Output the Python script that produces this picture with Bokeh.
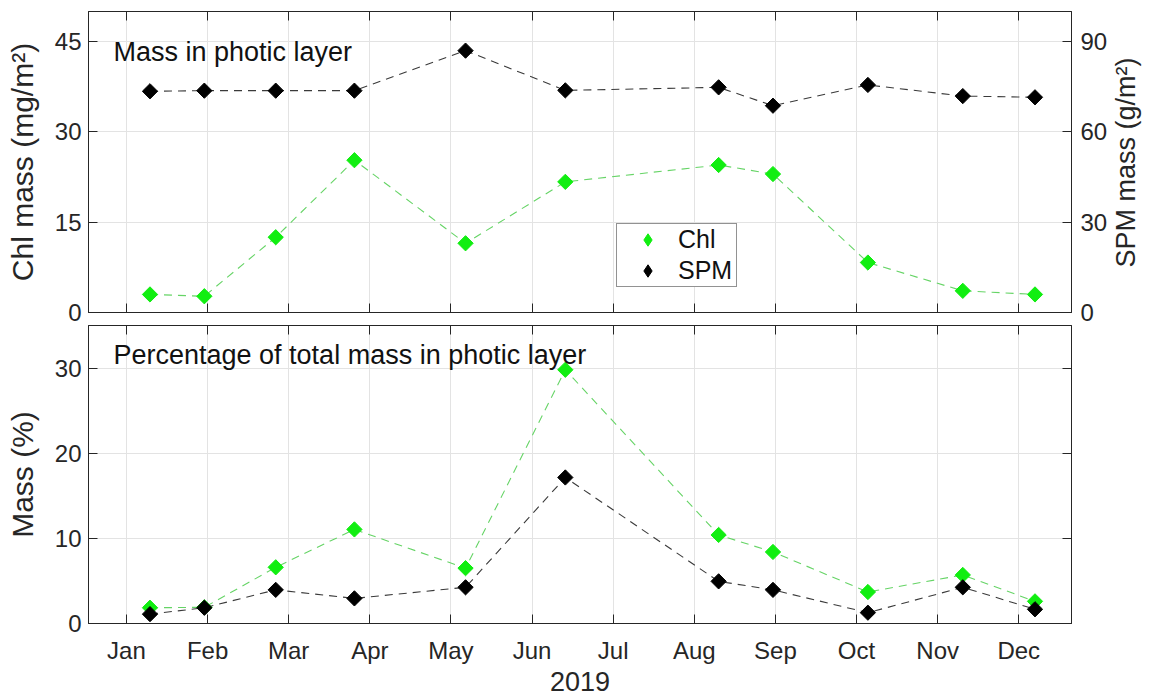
import math
from bokeh.plotting import figure
from bokeh.models import Range1d, LinearAxis, FixedTicker, Label, Legend, LegendItem
from bokeh.layouts import column
from bokeh.embed import file_html
from bokeh.resources import INLINE

# ---------------- data ----------------
month_ticks = [1, 2, 3, 4, 5, 6, 7, 8, 9, 10, 11, 12]
month_labels = ["Jan", "Feb", "Mar", "Apr", "May", "Jun",
                "Jul", "Aug", "Sep", "Oct", "Nov", "Dec"]
# sampling dates expressed as fractional month position on the axis
sample_month = [1.29, 1.96, 2.84, 3.81, 5.18, 6.41, 8.30, 8.97, 10.14, 11.31, 12.20]

chl_mass = [3.0, 2.7, 12.5, 25.3, 11.5, 21.7, 24.5, 23.0, 8.3, 3.6, 3.0]        # mg/m2
spm_mass = [73.5, 73.7, 73.7, 73.7, 87.0, 73.8, 74.8, 68.7, 75.6, 71.9, 71.5]   # g/m2
chl_pct = [1.85, 1.9, 6.6, 11.05, 6.5, 29.8, 10.4, 8.4, 3.7, 5.7, 2.6]          # %
spm_pct = [1.1, 1.85, 3.95, 2.95, 4.25, 17.15, 4.95, 3.95, 1.27, 4.25, 1.67]   # %

top_left_ticks = [0, 15, 30, 45]
top_right_ticks = [0, 30, 60, 90]
bottom_ticks = [0, 10, 20, 30]

# ---------------- style ----------------
FONT = "Liberation Sans"
INK = "#262626"
GREEN = "#11ee11"
GREEN_LINE = "#66d466"
BLACK = "#000000"
BLACK_LINE = "#3a3a3a"
GRID = "#e3e3e3"
DASH = "8 6"
X_LO, X_HI = 0.532, 12.65
FIG_W = 1159
BORDER_L = 88
BORDER_R = FIG_W - 1072
NAN = float("nan")
SPM_TITLE_START = 14.95   # where the bottom-to-top right-hand title begins (SPM units)


def style_axis(ax, ticks, labels=True, font_size="24px", standoff=7):
    ax.ticker = FixedTicker(ticks=ticks, minor_ticks=[])
    ax.axis_line_color = INK
    ax.axis_line_width = 1
    ax.major_tick_line_color = INK
    ax.major_tick_in = 9
    ax.major_tick_out = 0
    ax.minor_tick_in = 0
    ax.minor_tick_out = 0
    ax.major_label_text_font = FONT
    ax.major_label_text_color = INK
    ax.axis_label_text_font = FONT
    ax.axis_label_text_color = INK
    ax.axis_label_text_font_style = "normal"
    if labels:
        ax.major_label_text_font_size = font_size
        ax.major_label_standoff = standoff
    else:
        ax.major_label_overrides = {t: "" for t in ticks}
        ax.major_label_text_font_size = "1px"
        ax.major_label_standoff = 0


def base_fig(height, y_hi, border_top, border_bottom):
    p = figure(width=FIG_W, height=height,
               x_range=Range1d(X_LO, X_HI), y_range=Range1d(0, y_hi),
               output_backend="svg", toolbar_location=None,
               min_border_left=BORDER_L, min_border_right=BORDER_R,
               min_border_top=border_top, min_border_bottom=border_bottom)
    p.outline_line_color = INK
    p.outline_line_width = 1
    p.background_fill_color = "white"
    p.border_fill_color = "white"
    p.xgrid.ticker = FixedTicker(ticks=month_ticks)
    p.xgrid.grid_line_color = GRID
    p.ygrid.grid_line_color = GRID
    return p


# ---------------- top panel ----------------
TOP_FRAME_H = 301
p1 = base_fig(11 + TOP_FRAME_H + 13, 50, 11, 13)
p1.extra_y_ranges = {"spm": Range1d(0, 100)}
p1.ygrid.ticker = FixedTicker(ticks=top_left_ticks)

style_axis(p1.xaxis[0], month_ticks, labels=False)
style_axis(p1.yaxis[0], top_left_ticks, standoff=7)
p1.yaxis[0].axis_label = "Chl mass (mg/m²)"
p1.yaxis[0].axis_label_text_font_size = "30px"
p1.yaxis[0].axis_label_standoff = 13

ax_top = LinearAxis()
style_axis(ax_top, month_ticks, labels=False)
p1.add_layout(ax_top, "above")

ax_r1 = LinearAxis(y_range_name="spm")
style_axis(ax_r1, top_right_ticks, standoff=9)
p1.add_layout(ax_r1, "right")

# right-hand title, reading bottom-to-top, carried by an outer label-only axis
ax_title = LinearAxis(y_range_name="spm")
ax_title.ticker = FixedTicker(ticks=[SPM_TITLE_START], minor_ticks=[])
ax_title.major_label_overrides = {SPM_TITLE_START: "SPM mass (g/m²)"}
ax_title.major_label_orientation = math.pi / 2
ax_title.major_label_text_font = FONT
ax_title.major_label_text_font_size = "27px"
ax_title.major_label_text_color = INK
ax_title.major_label_standoff = 16
ax_title.axis_line_color = None
ax_title.major_tick_line_color = None
ax_title.major_tick_in = 0
ax_title.major_tick_out = 0
ax_title.minor_tick_line_color = None
p1.add_layout(ax_title, "right")

p1.line(sample_month, chl_mass, line_color=GREEN_LINE, line_dash=DASH, line_width=1.1)
p1.scatter(sample_month, chl_mass, marker="square", angle=math.pi / 4, size=10.8,
           fill_color=GREEN, line_color=GREEN)
p1.line(sample_month, spm_mass, line_color=BLACK_LINE, line_dash=DASH, line_width=1.1,
        y_range_name="spm")
p1.scatter(sample_month, spm_mass, marker="square", angle=math.pi / 4, size=10.8,
           fill_color=BLACK, line_color=BLACK, y_range_name="spm")

# legend-only renderers (a single undrawn NaN point) so the key shows diamond symbols
leg_chl = p1.scatter(x=[NAN], y=[NAN], marker="diamond", fill_color=GREEN, line_color=GREEN)
leg_spm = p1.scatter(x=[NAN], y=[NAN], marker="diamond", fill_color=BLACK, line_color=BLACK)

p1.add_layout(Label(x=0.84, y=43.2, text="Mass in photic layer", text_font=FONT,
                    text_font_size="27px", text_color="#111111",
                    text_baseline="alphabetic"))

legend = Legend(items=[LegendItem(label="Chl", renderers=[leg_chl]),
                       LegendItem(label="SPM", renderers=[leg_spm])],
                location=(528, 25), margin=0, padding=0, spacing=0,
                glyph_width=61, glyph_height=31, label_height=31, label_standoff=0,
                label_width=58,
                label_text_font=FONT, label_text_font_size="25px", label_text_color="#111111",
                border_line_color=INK, border_line_width=1,
                background_fill_color="white", background_fill_alpha=1.0)
p1.add_layout(legend)

# ---------------- bottom panel ----------------
p2 = base_fig(0 + 298 + 75, 35, 0, 75)
p2.ygrid.ticker = FixedTicker(ticks=bottom_ticks)

style_axis(p2.xaxis[0], month_ticks, standoff=13)
p2.xaxis[0].major_label_overrides = {m: lab for m, lab in zip(month_ticks, month_labels)}
p2.xaxis[0].axis_label = "2019"
p2.xaxis[0].axis_label_text_font_size = "27px"
p2.xaxis[0].axis_label_standoff = 5

style_axis(p2.yaxis[0], bottom_ticks, standoff=7)
p2.yaxis[0].axis_label = "Mass (%)"
p2.yaxis[0].axis_label_text_font_size = "30px"
p2.yaxis[0].axis_label_standoff = 13

ax_top2 = LinearAxis()
style_axis(ax_top2, month_ticks, labels=False)
p2.add_layout(ax_top2, "above")

ax_r2 = LinearAxis()
style_axis(ax_r2, bottom_ticks, labels=False)
p2.add_layout(ax_r2, "right")

p2.line(sample_month, chl_pct, line_color=GREEN_LINE, line_dash=DASH, line_width=1.1)
p2.scatter(sample_month, chl_pct, marker="square", angle=math.pi / 4, size=10.8,
           fill_color=GREEN, line_color=GREEN)
p2.line(sample_month, spm_pct, line_color=BLACK_LINE, line_dash=DASH, line_width=1.1)
p2.scatter(sample_month, spm_pct, marker="square", angle=math.pi / 4, size=10.8,
           fill_color=BLACK, line_color=BLACK)

p2.add_layout(Label(x=0.84, y=31.48, text="Percentage of total mass in photic layer",
                    text_font=FONT, text_font_size="27px", text_color="#111111",
                    text_baseline="alphabetic"))

layout = column(p1, p2)
open("out.html", "w").write(file_html(layout, INLINE))
